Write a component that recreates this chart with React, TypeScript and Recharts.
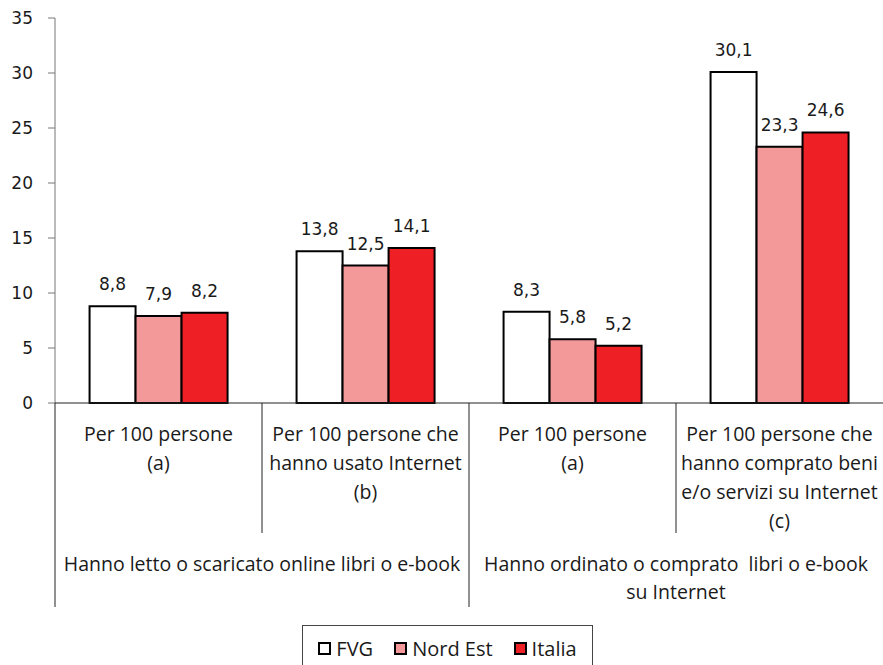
import { Bar, BarChart, LabelList, Legend, XAxis, YAxis } from 'recharts'

const categoryLines = [
  ['Per 100 persone', '(a)'],
  ['Per 100 persone che', 'hanno usato Internet', '(b)'],
  ['Per 100 persone', '(a)'],
  ['Per 100 persone che', 'hanno comprato beni', 'e/o servizi su Internet', '(c)'],
]
const groupLines = [
  ['Hanno letto o scaricato online libri o e-book'],
  ['Hanno ordinato o comprato  libri o e-book', 'su Internet'],
]
const seriesNames = ['FVG', 'Nord Est', 'Italia']
const fvg = [8.8, 13.8, 8.3, 30.1]
const nordEst = [7.9, 12.5, 5.8, 23.3]
const italia = [8.2, 14.1, 5.2, 24.6]
const yTicks = [0, 5, 10, 15, 20, 25, 30, 35]

const data = categoryLines.map((_, i) => ({
  id: i,
  fvg: fvg[i],
  nordEst: nordEst[i],
  italia: italia[i],
}))

const W = 883
const H = 665
const Y_AXIS_W = 55
const BAND = (W - Y_AXIS_W) / categoryLines.length
const catFont = '"Open Sans", sans-serif'
const numFont = '"DejaVu Sans", sans-serif'

const fmt = (v: any) => String(v).replace('.', ',')

function CategoryTick(props: any) {
  const { x, y, index } = props
  const half = BAND / 2
  const left = x - half
  const lines = categoryLines[index] || []
  const long = index % 2 === 0
  const group = long ? groupLines[index / 2] : []
  return (
    <g>
      <line x1={left} x2={left} y1={y} y2={y + (long ? 204 : 130)} stroke='#222' strokeWidth={1} />
      {lines.map((t, i) => (
        <text
          key={i}
          x={x}
          y={y + 30 + i * 29}
          textAnchor='middle'
          dominantBaseline='central'
          fontFamily={catFont}
          fontSize={19.5}
          fill='#1a1a1a'
        >
          {t}
        </text>
      ))}
      {group.map((t, i) => (
        <text
          key={'g' + i}
          x={x + half}
          y={y + 160 + i * 28}
          textAnchor='middle'
          dominantBaseline='central'
          fontFamily={catFont}
          fontSize={19.5}
          fill='#1a1a1a'
          style={{ whiteSpace: 'pre' }}
        >
          {t}
        </text>
      ))}
    </g>
  )
}

function LegendBox(props: any) {
  const items = [...(props.payload || [])].sort(
    (a: any, b: any) => seriesNames.indexOf(a.value) - seriesNames.indexOf(b.value)
  )
  return (
    <div
      style={{
        border: '1px solid #444',
        height: 46,
        boxSizing: 'border-box',
        display: 'flex',
        alignItems: 'center',
        justifyContent: 'center',
        fontFamily: catFont,
        fontSize: 20,
        color: '#1a1a1a',
      }}
    >
      {items.map((it: any, i: number) => (
        <div key={i} style={{ display: 'flex', alignItems: 'center', marginLeft: i ? 21 : 0 }}>
          <span
            style={{
              width: 13,
              height: 13,
              boxSizing: 'border-box',
              border: '2px solid #000',
              background: it.color,
              marginRight: 5,
              display: 'inline-block',
            }}
          />
          <span>{it.value}</span>
        </div>
      ))}
    </div>
  )
}

export default function App() {
  return (
    <div style={{ position: 'absolute', left: 0, top: 0, width: W, height: H, background: '#fff' }}>
      <BarChart
        width={W}
        height={H}
        data={data}
        margin={{ top: 18, right: 0, left: 0, bottom: 0 }}
        barCategoryGap='16.7%'
        barGap={0}
      >
        <YAxis
          width={Y_AXIS_W}
          domain={[0, 35]}
          ticks={yTicks}
          interval={0}
          stroke='#777'
          tickSize={7}
          tickMargin={15}
          tick={{ fontFamily: numFont, fontSize: 17, fill: '#1a1a1a' }}
        />
        <XAxis
          dataKey='id'
          height={262}
          stroke='#222'
          tickLine={false}
          tickSize={0}
          tickMargin={0}
          interval={0}
          tick={<CategoryTick />}
        />
        <Legend
          layout='horizontal'
          verticalAlign='middle'
          align='center'
          wrapperStyle={{ left: 302, top: 625, width: 291, height: 46 }}
          content={<LegendBox />}
        />
        <Bar dataKey='fvg' name={seriesNames[0]} fill='#ffffff' stroke='#000' strokeWidth={2} isAnimationActive={false}>
          <LabelList dataKey='fvg' position='top' offset={16} formatter={fmt} fontFamily={numFont} fontSize={17} fill='#1a1a1a' />
        </Bar>
        <Bar dataKey='nordEst' name={seriesNames[1]} fill='#f4999a' stroke='#000' strokeWidth={2} isAnimationActive={false}>
          <LabelList dataKey='nordEst' position='top' offset={16} formatter={fmt} fontFamily={numFont} fontSize={17} fill='#1a1a1a' />
        </Bar>
        <Bar dataKey='italia' name={seriesNames[2]} fill='#ee1f25' stroke='#000' strokeWidth={2} isAnimationActive={false}>
          <LabelList dataKey='italia' position='top' offset={16} formatter={fmt} fontFamily={numFont} fontSize={17} fill='#1a1a1a' />
        </Bar>
      </BarChart>
    </div>
  )
}
